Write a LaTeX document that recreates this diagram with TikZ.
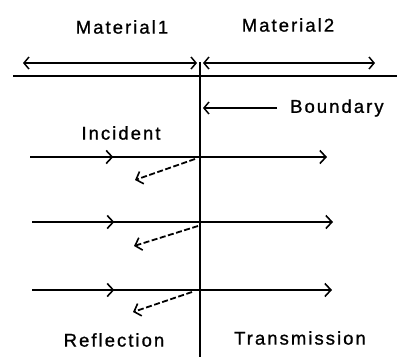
\documentclass[tikz,border=0pt]{standalone}
\usepackage{fontspec}
\newfontfamily\lblfont[LetterSpace=11, FakeBold=1]{Liberation Sans}
\usepackage{tikz}
\usetikzlibrary{arrows.meta,decorations.markings}

\begin{document}
\begin{tikzpicture}[
    x=1pt, y=-1pt,
    lbl/.style={font=\lblfont\fontsize{18.5}{18.5}\selectfont, inner sep=0pt},
    ray/.style={line width=2.2pt, -{Straight Barb[length=6pt, width=13pt, line width=1.6pt]}},
    midray/.style={line width=2.2pt, postaction={decorate}, decoration={markings,
        mark=at position 0.49 with {\arrow{Straight Barb[length=6pt, width=13pt, line width=1.6pt]}}}},
    refl/.style={line width=1.8pt, dash pattern=on 6pt off 2.5pt, -{Straight Barb[length=6pt, width=13pt, line width=1.6pt]}},
    span/.style={line width=1.8pt, {Straight Barb[length=5pt, width=12pt, line width=1.5pt]}-{Straight Barb[length=5pt, width=12pt, line width=1.5pt]}}
]
\useasboundingbox (0,0) rectangle (397,357);
% labels
\node[lbl] (mat1) at (122,27) {Material1};
\node[lbl] (mat2) at (288,25) {Material2};
\node[lbl, anchor=west] (bnd) at (290,108) {Boundary};
\node[lbl] (inc) at (121,133) {Incident};
\node[lbl] (refl) at (114,340) {Reflection};
\node[lbl] (trans) at (300,338) {Transmission};
% interface and extents
\coordinate (top) at (200,62);
\coordinate (bot) at (200,357);
\coordinate (hl) at (13,76);
\coordinate (hr) at (397,76);
\coordinate (m1l) at (23,63);
\coordinate (m1r) at (197,63);
\coordinate (m2l) at (203,63);
\coordinate (m2r) at (375,63);
\coordinate (bnda) at (277,108);
\coordinate (bndb) at (203,108);
\draw[line width=2.2pt] (top)--(bot);
\draw[line width=2.2pt] (hl)--(hr);
\draw[span] (m1l)--(m1r);
\draw[span] (m2l)--(m2r);
\draw[line width=1.8pt, -{Straight Barb[length=5pt, width=12pt, line width=1.5pt]}] (bnda)--(bndb);
% rays
\foreach \n/\y/\xs/\xe/\rx/\ry/\ex/\ey in {1/157/30/327/195/159/135/180, 2/222/32/333/198/226/134/246, 3/290/32/332/192/292/133/312}{
  \coordinate (in\n) at (\xs,\y);
  \coordinate (hit\n) at (200,\y);
  \coordinate (tr\n) at (\xe,\y);
  \coordinate (rs\n) at (\rx,\ry);
  \coordinate (re\n) at (\ex,\ey);
  \draw[midray] (in\n)--(hit\n);
  \draw[ray] (hit\n)--(tr\n);
  \draw[refl] (rs\n)--(re\n);
}
\end{tikzpicture}
\end{document}
